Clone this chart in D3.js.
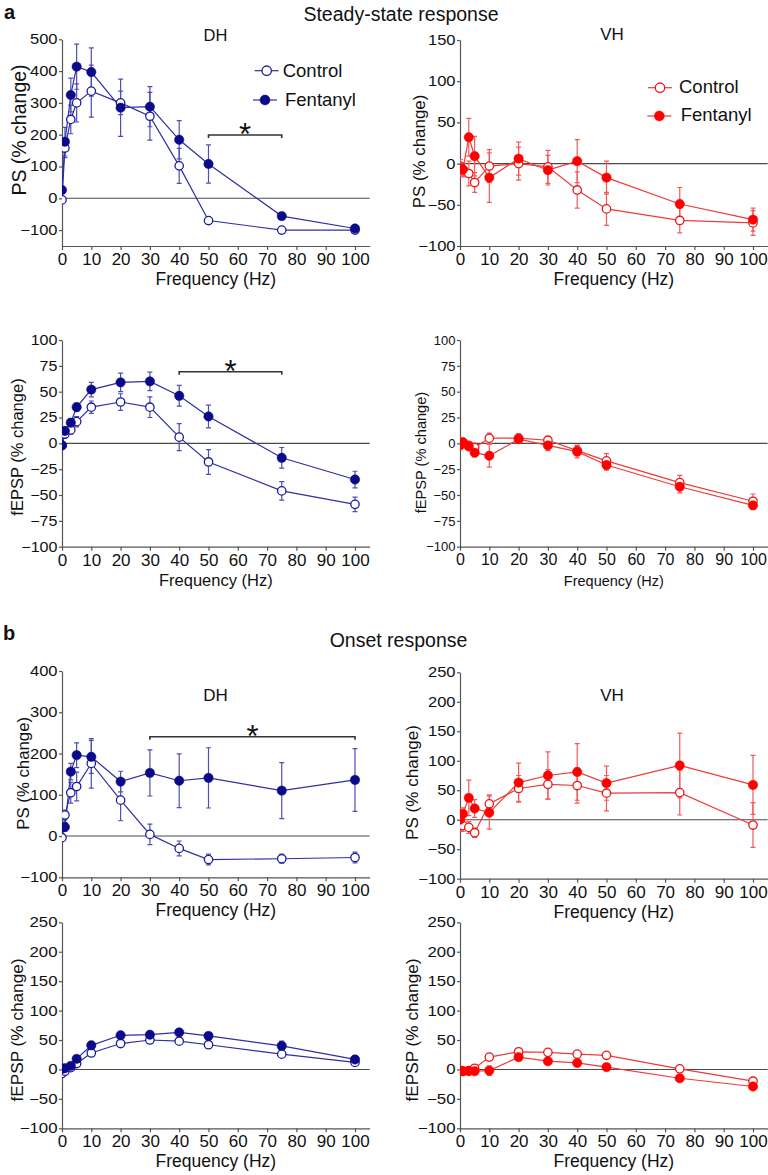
<!DOCTYPE html>
<html><head><meta charset="utf-8">
<script src="https://cdn.jsdelivr.net/npm/d3@7"></script>
<style>
body{margin:0;background:#fff}
svg{display:block}
text{font-family:"Liberation Sans",Arial,sans-serif;fill:#111}
</style>
</head><body>
<svg id="chart" width="768" height="1175"></svg>
<script>
// ---------- data ----------
const freqHz = [0, 1, 3, 5, 10, 20, 30, 40, 50, 75, 100];
const xTickValues = [0, 10, 20, 30, 40, 50, 60, 70, 80, 90, 100];
const seriesNames = ["Control", "Fentanyl"];

// a) Steady-state response
const ssDhPsControl    = [-5, 158, 248, 300, 337, 300, 258, 102, -70, -100, -100];
const ssDhPsControlErr = [5, 30, 45, 60, 82, 37, 75, 55, 6, 5, 5];
const ssDhPsFentanyl    = [26, 178, 325, 414, 397, 285, 288, 184, 108, -56, -95];
const ssDhPsFentanylErr = [10, 45, 53, 71, 76, 90, 63, 60, 60, 8, 6];

const ssVhPsControl    = [-3, -8, -12, -23, -3, 0, -4, -32, -55, -69, -72];
const ssVhPsControlErr = [8, 8, 15, 12, 20, 20, 20, 22, 20, 15, 15];
const ssVhPsFentanyl    = [-5, -7, 32, 9, -17, 6, -8, 3, -17, -49, -68];
const ssVhPsFentanylErr = [10, 8, 23, 24, 30, 20, 18, 26, 20, 20, 14];

const ssDhEpspControl    = [-2, 9, 13, 21, 35, 40, 35, 6, -18, -46, -59];
const ssDhEpspControlErr = [2, 4, 4, 5, 6, 8, 10, 13, 12, 9, 7];
const ssDhEpspFentanyl    = [-2, 12, 20, 35, 52, 59, 60, 46, 26, -14, -35];
const ssDhEpspFentanylErr = [2, 4, 4, 4, 7, 9, 9, 10, 11, 10, 8];

const ssVhEpspControl    = [0, 1, -2, -4, 5, 5, 3, -7, -17, -38, -56];
const ssVhEpspControlErr = [3, 3, 3, 4, 5, 4, 4, 5, 7, 7, 7];
const ssVhEpspFentanyl    = [-2, 1, -3, -9, -12, 4, -2, -8, -21, -42, -60];
const ssVhEpspFentanylErr = [3, 3, 3, 4, 11, 4, 5, 6, 5, 6, 4];

// b) Onset response
const onDhPsControl    = [-4, 51, 105, 120, 176, 87, 4, -30, -57, -55, -52];
const onDhPsControlErr = [5, 12, 25, 35, 60, 50, 25, 18, 13, 11, 13];
const onDhPsFentanyl    = [20, 22, 156, 196, 192, 132, 153, 134, 141, 110, 136];
const onDhPsFentanylErr = [8, 10, 20, 30, 40, 25, 56, 65, 73, 68, 76];

const onVhPsControl    = [-6, -10, -13, -22, 27, 53, 60, 58, 45, 46, -9];
const onVhPsControlErr = [12, 10, 10, 8, 15, 22, 25, 30, 30, 38, 38];
const onVhPsFentanyl    = [0, 10, 37, 19, 12, 63, 75, 81, 62, 92, 59];
const onVhPsFentanylErr = [8, 10, 30, 15, 28, 33, 40, 48, 29, 55, 50];

const onDhEpspControl    = [-7, -3, 3, 10, 28, 44, 50, 48, 42, 26, 12];
const onDhEpspControlErr = [3, 3, 3, 3, 4, 4, 4, 4, 4, 4, 3];
const onDhEpspFentanyl    = [1, 2, 6, 18, 41, 58, 59, 63, 57, 40, 17];
const onDhEpspFentanylErr = [3, 3, 3, 4, 5, 4, 4, 4, 4, 8, 5];

const onVhEpspControl    = [-2, -3, -2, 2, 21, 30, 29, 26, 24, 1, -20];
const onVhEpspControlErr = [3, 3, 3, 3, 5, 4, 4, 4, 3, 3, 4];
const onVhEpspFentanyl    = [-2, -3, -3, -3, -2, 21, 14, 11, 4, -15, -29];
const onVhEpspFentanylErr = [3, 3, 3, 3, 8, 4, 4, 4, 3, 3, 4];

// tick labels
const yTicksSsDhPs = [-100, 0, 100, 200, 300, 400, 500];
const yTicksSsVhPs = [-100, -50, 0, 50, 100, 150];
const yTicksSsEpsp = [-100, -75, -50, -25, 0, 25, 50, 75, 100];
const yTicksOnDhPs = [-100, 0, 100, 200, 300, 400];
const yTicksOn250  = [-100, -50, 0, 50, 100, 150, 200, 250];

// significance spans [from Hz, to Hz]
const sigSsDhPs = [50, 75];
const sigSsDhEpsp = [40, 75];
const sigOnDhPs = [30, 100];

// ---------- styles ----------
const palette = {
  blue: {fill: "#0b0b8a", stroke: "#1c1c9c", line: "#2f2fa2", err: "#4f4fb4"},
  red:  {fill: "#ff0000", stroke: "#f01414", line: "#ef3a3a", err: "#f25a5a"}
};
const FONT = '"Liberation Sans", Arial, sans-serif';
const svg = d3.select("#chart");
const X_SPAN = 293; // px per 100 Hz

// ---------- panels ----------
const panels = [
  {L:62,  top:39.3,  bottom:246,   yDomain:[-150,500], yTicks:yTicksSsDhPs, ctrl:ssDhPsControl, ctrlErr:ssDhPsControlErr, fent:ssDhPsFentanyl, fentErr:ssDhPsFentanylErr, col:"blue",
   ylab:"PS (% change)", ylx:19, yly:130, ylfs:19.5, ytfs:14, ytsx:1.18, xtfs:17, xlfs:17.5, sig:sigSsDhPs, sigY:135, title:"DH", tx:215.5, ty:40.5, tfs:16.5,
   legend:{cx:[266.7,265], cy:[70.7,100], tx:[282.7,285], ty:[77,106]}},
  {L:460, top:40,    bottom:246,   yDomain:[-100,150], yTicks:yTicksSsVhPs, ctrl:ssVhPsControl, ctrlErr:ssVhPsControlErr, fent:ssVhPsFentanyl, fentErr:ssVhPsFentanylErr, col:"red",
   ylab:"PS (% change)", ylx:419, yly:151.5, ylfs:16.9, ytfs:14, ytsx:1.18, xtfs:17, xlfs:17.5, title:"VH", tx:612, ty:39.5, tfs:17,
   legend:{cx:[660,659.3], cy:[87.7,116], tx:[679,680.7], ty:[93,121]}},
  {L:62,  top:340,   bottom:546.7, yDomain:[-100,100], yTicks:yTicksSsEpsp, ctrl:ssDhEpspControl, ctrlErr:ssDhEpspControlErr, fent:ssDhEpspFentanyl, fentErr:ssDhEpspFentanylErr, col:"blue",
   ylab:"fEPSP (% change)", ylx:17, yly:447, ylfs:16.5, ytfs:14, ytsx:1.15, xtfs:17, xlfs:16.5, sig:sigSsDhEpsp, sigY:371.7},
  {L:460, top:340,   bottom:546.7, yDomain:[-100,100], yTicks:yTicksSsEpsp, ctrl:ssVhEpspControl, ctrlErr:ssVhEpspControlErr, fent:ssVhEpspFentanyl, fentErr:ssVhEpspFentanylErr, col:"red",
   ylab:"fEPSP (% change)", ylx:420.7, yly:452.5, ylfs:14.6, ytfs:13, ytsx:1.0, xtfs:16, xlfs:14.5},
  {L:62,  top:671,   bottom:877.3, yDomain:[-100,400], yTicks:yTicksOnDhPs, ctrl:onDhPsControl, ctrlErr:onDhPsControlErr, fent:onDhPsFentanyl, fentErr:onDhPsFentanylErr, col:"blue",
   ylab:"PS (% change)", ylx:23, yly:773.3, ylfs:16.8, ytfs:14, ytsx:1.18, xtfs:17, xlfs:17.5, sig:sigOnDhPs, sigY:736.7, title:"DH", tx:215.5, ty:701, tfs:17},
  {L:460, top:672.3, bottom:878.7, yDomain:[-100,250], yTicks:yTicksOn250, ctrl:onVhPsControl, ctrlErr:onVhPsControlErr, fent:onVhPsFentanyl, fentErr:onVhPsFentanylErr, col:"red",
   ylab:"PS (% change)", ylx:412, yly:782.5, ylfs:17.1, ytfs:14, ytsx:1.18, xtfs:17, xlfs:17.5, title:"VH", tx:612, ty:701, tfs:17},
  {L:62,  top:922.3, bottom:1128.3, yDomain:[-100,250], yTicks:yTicksOn250, ctrl:onDhEpspControl, ctrlErr:onDhEpspControlErr, fent:onDhEpspFentanyl, fentErr:onDhEpspFentanylErr, col:"blue",
   ylab:"fEPSP (% change)", ylx:17, yly:1030, ylfs:17.2, ytfs:14, ytsx:1.2, xtfs:17, xlfs:17.5},
  {L:460, top:922.3, bottom:1128.3, yDomain:[-100,250], yTicks:yTicksOn250, ctrl:onVhEpspControl, ctrlErr:onVhEpspControlErr, fent:onVhEpspFentanyl, fentErr:onVhEpspFentanylErr, col:"red",
   ylab:"fEPSP (% change)", ylx:412, yly:1030, ylfs:17.2, ytfs:14, ytsx:1.2, xtfs:17, xlfs:17.5}
];

function txt(x, y, s, fs, anchor, weight) {
  return svg.append("text").attr("x", x).attr("y", y).attr("font-size", fs)
    .attr("text-anchor", anchor || "start").attr("font-weight", weight || "normal").text(s);
}

const R = 4.7;

panels.forEach((p, i) => {
  const c = palette[p.col];
  const x = d3.scaleLinear().domain([0, 105]).range([p.L, p.L + X_SPAN * 1.05]);
  const y = d3.scaleLinear().domain(p.yDomain).range([p.bottom, p.top]);
  const g = svg.append("g");

  // clip for markers at x = 0
  const clipId = "clip" + i;
  svg.append("clipPath").attr("id", clipId).append("rect")
    .attr("x", p.L).attr("y", p.top - 30).attr("width", X_SPAN * 1.05 + 20).attr("height", p.bottom - p.top + 60);

  // zero line
  g.append("line").attr("x1", x(0)).attr("x2", x(105)).attr("y1", y(0)).attr("y2", y(0))
    .attr("stroke", "#4a4a4a").attr("stroke-width", 1.1);

  // y axis
  const ya = g.append("g").attr("transform", `translate(${p.L},0)`)
    .call(d3.axisLeft(y).tickValues(p.yTicks).tickSize(3).tickPadding(1).tickSizeOuter(0));
  ya.select(".domain").attr("stroke", "#555").attr("stroke-width", 1.2);
  ya.selectAll(".tick line").attr("stroke", "#555").attr("stroke-width", 1.2);
  ya.selectAll(".tick text").attr("font-size", p.ytfs).attr("font-family", FONT).attr("fill", "#111")
    .attr("transform", `scale(${p.ytsx},1)`).attr("x", -4.5 / p.ytsx);

  // x axis
  const xa = g.append("g").attr("transform", `translate(0,${p.bottom})`)
    .call(d3.axisBottom(x).tickValues(xTickValues).tickSize(4).tickPadding(3).tickSizeOuter(0));
  xa.select(".domain").attr("stroke", "#555").attr("stroke-width", 1.2);
  xa.selectAll(".tick line").attr("stroke", "#555").attr("stroke-width", 1.2);
  xa.selectAll(".tick text").attr("font-size", p.xtfs).attr("font-family", FONT).attr("fill", "#111");

  // axis labels
  txt(x(0) + X_SPAN * 1.05 / 2, p.bottom + 39, "Frequency (Hz)", p.xlfs, "middle");
  svg.append("text").attr("transform", `translate(${p.ylx},${p.yly}) rotate(-90)`)
    .attr("dy", "0.35em").attr("text-anchor", "middle").attr("font-size", p.ylfs).text(p.ylab);

  if (p.title) txt(p.tx, p.ty, p.title, p.tfs, "middle");

  // series
  const series = [
    {v: p.ctrl, e: p.ctrlErr, filled: false},
    {v: p.fent, e: p.fentErr, filled: true}
  ];
  const plot = g.append("g").attr("clip-path", `url(#${clipId})`);
  series.forEach(s => {
    const pts = freqHz.map((f, k) => ({f, v: s.v[k], e: s.e[k]}));
    // error bars
    const eb = plot.append("g").attr("stroke", c.err).attr("stroke-width", 1.2);
    pts.forEach(d => {
      eb.append("line").attr("x1", x(d.f)).attr("x2", x(d.f)).attr("y1", y(d.v - d.e)).attr("y2", y(d.v + d.e));
      [d.v - d.e, d.v + d.e].forEach(vv => {
        eb.append("line").attr("x1", x(d.f) - 2.5).attr("x2", x(d.f) + 2.5).attr("y1", y(vv)).attr("y2", y(vv));
      });
    });
    // line
    plot.append("path").datum(pts)
      .attr("d", d3.line().x(d => x(d.f)).y(d => y(d.v)))
      .attr("fill", "none").attr("stroke", c.line).attr("stroke-width", 1.2);
  });
  series.forEach(s => {
    const pts = freqHz.map((f, k) => ({f, v: s.v[k]}));
    plot.selectAll(null).data(pts).enter().append("circle")
      .attr("cx", d => x(d.f)).attr("cy", d => y(d.v))
      .attr("r", s.filled ? R : R - 0.5)
      .attr("fill", s.filled ? c.fill : "#fff")
      .attr("stroke", s.filled ? c.fill : c.stroke)
      .attr("stroke-width", s.filled ? 0.5 : 1.3);
  });

  // significance bar
  if (p.sig) {
    const x1 = x(p.sig[0]), x2 = x(p.sig[1]);
    svg.append("path").attr("d", `M${x1},${p.sigY + 3}V${p.sigY}H${x2}V${p.sigY + 3}`)
      .attr("fill", "none").attr("stroke", "#333").attr("stroke-width", 1.6);
    txt((x1 + x2) / 2, p.sigY - 8 + 18, "*", 31, "middle");
  }

  // legend
  if (p.legend) {
    const lg = p.legend;
    [0, 1].forEach(k => {
      svg.append("line").attr("x1", lg.cx[k] - 12).attr("x2", lg.cx[k] + 12)
        .attr("y1", lg.cy[k]).attr("y2", lg.cy[k]).attr("stroke", c.line).attr("stroke-width", 1.2);
      svg.append("circle").attr("cx", lg.cx[k]).attr("cy", lg.cy[k])
        .attr("r", k === 1 ? R + 0.3 : R)
        .attr("fill", k === 1 ? c.fill : "#fff")
        .attr("stroke", k === 1 ? c.fill : c.stroke).attr("stroke-width", k === 1 ? 0.5 : 1.3);
      txt(lg.tx[k], lg.ty[k], seriesNames[k], 18.5);
    });
  }
});

// section headings
txt(4, 18.5, "a", 20, "start", "bold");
txt(401, 21, "Steady-state response", 19.5, "middle");
txt(3, 640, "b", 20, "start", "bold");
txt(398.5, 647, "Onset response", 19.5, "middle");
</script>
</body></html>
